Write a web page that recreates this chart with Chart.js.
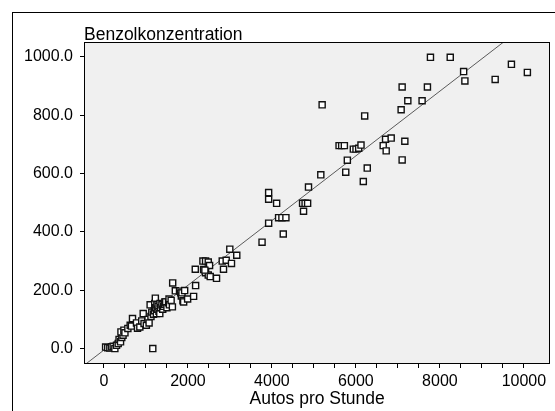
<!DOCTYPE html>
<html>
<head>
<meta charset="utf-8">
<script src="https://cdn.jsdelivr.net/npm/chart.js@4/dist/chart.umd.min.js"></script>
<style>
  html, body { margin: 0; padding: 0; background: #ffffff; }
  #wrap { position: relative; width: 555px; height: 411px; overflow: hidden; }
  #frame { position: absolute; left: 12px; top: 12px; width: 700px; height: 600px;
           border-left: 1px solid #000; border-top: 1px solid #000; box-sizing: border-box; }
  #c { position: absolute; left: 0; top: 0; }
</style>
</head>
<body>
<div id="wrap">
  <div id="frame"></div>
  <canvas id="c" width="555" height="411"></canvas>
</div>
<script>
// ---- data ----
const autos = [
  40, 90, 140, 180, 220, 260, 300, 340, 360, 395, 425, 455, 405, 475, 500, 570, 625, 655, 680, 775,
  800, 855, 900, 935, 955, 1010, 1050, 1075, 1100, 1120, 1140, 1163, 1180, 1200, 1210, 1224, 1230, 1250, 1260, 1270,
  1290, 1310, 1330, 1336, 1350, 1380, 1400, 1420, 1447, 1450, 1470, 1500, 1540, 1550, 1560, 1600, 1630, 1637, 1700, 1800,
  1827, 1843, 1858, 1881, 1898, 1922, 1993, 2135, 2183,
  2175, 2357, 2420, 2484, 2515, 2373, 2420, 2484, 2531, 2404, 2681, 2817, 2847, 2911, 3037, 2997, 3163,
  3765, 3922, 3922, 3922, 4112, 4159, 4238, 4333, 4270, 4730, 4790, 4850, 4753, 4871, 5164, 5196,
  5599, 5661, 5725, 5939, 6002, 6066, 6121, 5796, 5758, 6270, 6176, 6209, 6650, 6706, 6840, 6721, 7101, 7165, 7077, 7101,
  7236, 7576, 7703, 7775, 8246, 8565, 8595, 9316, 9703, 10083
];
const benzol = [
  5, 3, 2, 6, 8, 0, 11, 17, 31, 23, 38, 46, 57, 63, 54, 69, 80, 77, 103, 88,
  70, 74, 95, 120, 86, 80, 100, 88, 150, 110, 125, 0, 118, 130, 155, 173, 140, 120, 150, 135,
  145, 128, 120, 155, 140, 150, 135, 145, 152, 160, 160, 140, 157, 170, 150, 165, 143, 225, 198, 197,
  191, 180, 191, 164, 160, 199, 170, 179, 216,
  272, 300, 300, 297, 285, 271, 260, 252, 247, 269, 241, 300, 272, 303, 292, 341, 320,
  365, 430, 512, 535, 498, 449, 449, 449, 393, 498, 498, 498, 471, 554, 596, 836,
  696, 696, 696, 684, 684, 687, 698, 646, 605, 619, 573, 798, 696, 718, 722, 678, 647, 711, 819, 897,
  850, 850, 897, 999, 999, 950, 918, 923, 975, 947
];
const xTickValues = [0, 500, 1000, 1500, 2000, 2500, 3000, 3500, 4000, 4500, 5000, 5500, 6000, 6500, 7000, 7500, 8000, 8500, 9000, 9500, 10000];
const xLabelValues = [0, 2000, 4000, 6000, 8000, 10000];
const yTickValues = [0, 200, 400, 600, 800, 1000];
const xTitle = 'Autos pro Stunde';
const yTitle = 'Benzolkonzentration';
// fitted line
const fitIntercept = -5;
const fitSlope = 0.111;
const xRange = [-451, 10605];
const yRange = [-49.5, 1048];

const points = autos.map((a, i) => ({ x: a, y: benzol[i] }));
const fitLine = xRange.map(x => ({ x: x, y: fitIntercept + fitSlope * x }));

const FONT = '"Liberation Sans", Arial, sans-serif';

const boxPlugin = {
  id: 'box',
  beforeDatasetsDraw(chart) {
    const a = chart.chartArea, ctx = chart.ctx;
    ctx.save();
    ctx.fillStyle = '#f0f0f0';
    ctx.fillRect(a.left, a.top, a.right - a.left, a.bottom - a.top);
    ctx.restore();
  },
  afterDraw(chart) {
    const a = chart.chartArea, ctx = chart.ctx;
    ctx.save();
    ctx.strokeStyle = '#000';
    ctx.lineWidth = 1;
    ctx.strokeRect(Math.round(a.left) - 0.5, Math.round(a.top) - 0.5,
                   Math.round(a.right - a.left) + 1, Math.round(a.bottom - a.top) + 1);
    ctx.fillStyle = '#000';
    ctx.font = '17.5px ' + FONT;
    ctx.textAlign = 'left';
    ctx.textBaseline = 'alphabetic';
    ctx.fillText(yTitle, a.left - 1, a.top - 3);
    ctx.restore();
  }
};

new Chart(document.getElementById('c'), {
  type: 'scatter',
  data: {
    datasets: [
      {
        type: 'line',
        data: fitLine,
        borderColor: '#5a5a5a',
        borderWidth: 1,
        pointRadius: 0,
        fill: false,
        order: 2
      },
      {
        data: points,
        pointStyle: 'rect',
        pointRadius: 4.3,
        pointBorderWidth: 1.4,
        pointBackgroundColor: '#ffffff',
        pointBorderColor: '#111111',
        order: 1
      }
    ]
  },
  options: {
    responsive: false,
    animation: false,
    devicePixelRatio: 1,
    layout: { padding: { left: 0, top: 43, right: 4, bottom: 0 } },
    plugins: { legend: { display: false }, tooltip: { enabled: false }, title: { display: false } },
    scales: {
      x: {
        type: 'linear',
        min: xRange[0], max: xRange[1],
        afterBuildTicks: s => { s.ticks = xTickValues.map(v => ({ value: v })); },
        afterFit: s => { s.height = 48; },
        ticks: {
          autoSkip: false, maxRotation: 0, color: '#000', padding: 4,
          font: { family: FONT, size: 16 },
          callback: v => xLabelValues.includes(v) ? String(v) : ''
        },
        grid: { drawOnChartArea: false, drawTicks: true, tickLength: 5, color: '#000', tickColor: '#000' },
        border: { display: true, color: '#000' },
        title: { display: true, text: xTitle, color: '#000', font: { family: FONT, size: 17.5 }, padding: { top: 0, bottom: 1 } }
      },
      y: {
        type: 'linear',
        min: yRange[0], max: yRange[1],
        afterBuildTicks: s => { s.ticks = yTickValues.map(v => ({ value: v })); },
        afterFit: s => { s.width = 85; },
        ticks: {
          autoSkip: false, color: '#000', padding: 7,
          font: { family: FONT, size: 16 },
          callback: v => Number(v).toFixed(1)
        },
        grid: { drawOnChartArea: false, drawTicks: true, tickLength: 5, color: '#000', tickColor: '#000' },
        border: { display: true, color: '#000' }
      }
    }
  },
  plugins: [boxPlugin]
});
</script>
</body>
</html>
